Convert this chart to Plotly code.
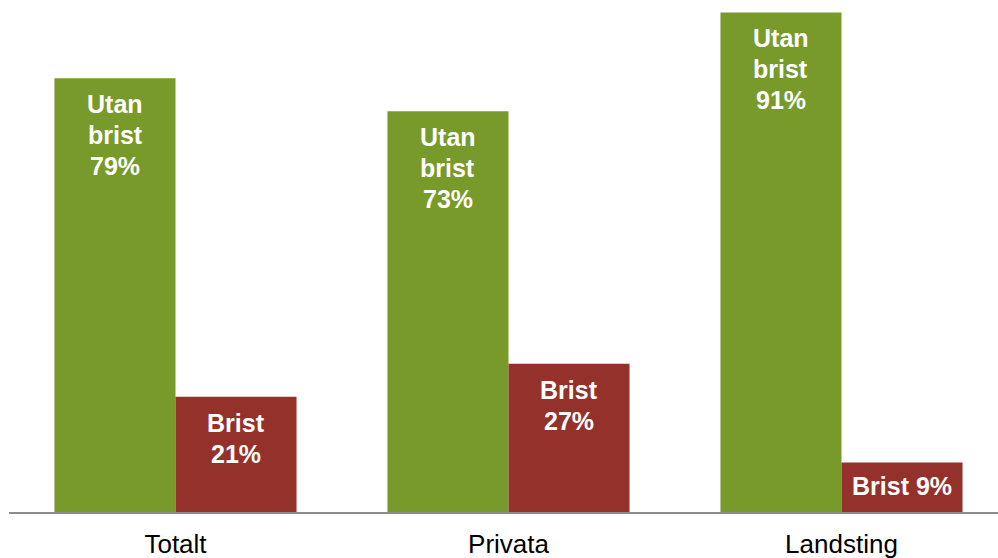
import plotly.graph_objects as go

categories = ["Totalt", "Privata", "Landsting"]
utan_brist = [79, 73, 91]
brist = [21, 27, 9]
utan_labels = ["Utan<br>brist<br>79%", "Utan<br>brist<br>73%", "Utan<br>brist<br>91%"]
brist_labels = ["Brist<br>21%", "Brist<br>27%", "Brist 9%"]

GREEN = "#789A2A"
RED = "#95312B"
LABEL_FONT = dict(family="Liberation Sans, Arial", size=25, color="white", weight="bold")

fig = go.Figure()
fig.add_trace(go.Bar(
    x=categories, y=utan_brist, name="Utan brist",
    marker=dict(color=GREEN, line=dict(width=0)),
    hoverinfo="skip",
))
fig.add_trace(go.Bar(
    x=categories, y=brist, name="Brist",
    marker=dict(color=RED, line=dict(width=0)),
    hoverinfo="skip",
))

# half of a bar slot in pixels: category width 333px, bars 121px each
HALF = 60.5
LINE_H = 31  # px between text lines
TOP_PAD = 10


def add_labels(values, labels, xshift):
    for cat, v, lab in zip(categories, values, labels):
        lines = lab.split("<br>")
        if len(lines) == 1:
            # short bar: centre the single line in the bar
            fig.add_annotation(x=cat, y=v / 2, text=lines[0], showarrow=False,
                               xanchor="center", yanchor="middle", xshift=xshift,
                               yshift=1, font=LABEL_FONT)
            continue
        for i, line in enumerate(lines):
            fig.add_annotation(x=cat, y=v, text=line, showarrow=False,
                               xanchor="center", yanchor="top", xshift=xshift,
                               yshift=-TOP_PAD - i * LINE_H, font=LABEL_FONT)


add_labels(utan_brist, utan_labels, -HALF)
add_labels(brist, brist_labels, HALF)

fig.update_layout(
    width=998, height=558,
    margin=dict(l=9, r=0, t=0, b=46),
    paper_bgcolor="white", plot_bgcolor="white",
    barmode="group", bargap=0.273, bargroupgap=0,
    showlegend=False,
    xaxis=dict(
        type="category", range=[-0.5, 2.47], automargin=False,
        showline=True, linecolor="#8C8C8C", linewidth=2,
        showgrid=False, zeroline=False, ticks="",
        ticklabelstandoff=8,
        tickfont=dict(family="Liberation Sans, Arial", size=26, color="black"),
    ),
    yaxis=dict(
        range=[0, 93.26], visible=False, showgrid=False, zeroline=False,
        automargin=False,
    ),
)

fig.write_html("out.html")
